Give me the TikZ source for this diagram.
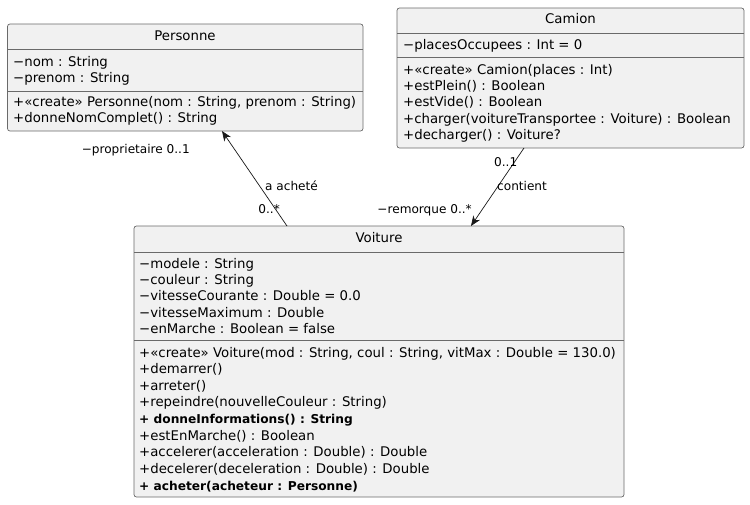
\documentclass[tikz,border=0pt]{standalone}
\usepackage{fontspec}
\setmainfont{DejaVu Sans}
\usetikzlibrary{arrows.meta,calc}
\definecolor{boxfill}{HTML}{F1F1F1}
\definecolor{boxline}{HTML}{6A6A6A}
\definecolor{linkline}{HTML}{181818}
\begin{document}
\begin{tikzpicture}[x=1pt,y=-1pt,
  classbox/.style={draw=boxline, line width=0.7pt, fill=boxfill, rounded corners=2.5pt,
    inner sep=0pt, outer sep=0pt, anchor=north west},
  sepline/.style={draw=boxline, line width=0.7pt},
  member/.style={inner sep=0pt, anchor=west, text height=9pt, text depth=3pt,
    font=\fontsize{13.3}{15}\selectfont},
  boldmember/.style={member, font=\fontsize{12.2}{15}\selectfont\bfseries},
  title/.style={inner sep=0pt, anchor=center, text height=9pt, text depth=3pt,
    font=\fontsize{13.3}{15}\selectfont},
  lbl/.style={inner sep=0pt, text height=8.5pt, text depth=2.5pt,
    font=\fontsize{12.1}{13}\selectfont},
  link/.style={draw=linkline, line width=0.7pt, -{Stealth[length=10pt,width=8pt,inset=3pt]}}
]
\useasboundingbox (0,0) rectangle (750,504);

% ---------- Personne ----------
\node[classbox, minimum width=355.5pt, minimum height=107pt] (personne) at (7.5,24) {};
\draw[sepline] ($(personne.north west)+(0,25)$) -- ($(personne.north east)+(0,25)$);
\draw[sepline] ($(personne.north west)+(0,67)$) -- ($(personne.north east)+(0,67)$);
\node[title] (pT) at (185,37) {Personne};
\node[member] (pa1) at (13,63) {−nom : String};
\node[member] (pa2) at (13,79) {−prenom : String};
\node[member] (pm1) at (13,103) {+«create» Personne(nom : String, prenom : String)};
\node[member] (pm2) at (13,119) {+donneNomComplet() : String};

% ---------- Camion ----------
\node[classbox, minimum width=347pt, minimum height=140pt] (camion) at (397,8) {};
\draw[sepline] ($(camion.north west)+(0,25.5)$) -- ($(camion.north east)+(0,25.5)$);
\draw[sepline] ($(camion.north west)+(0,49)$) -- ($(camion.north east)+(0,49)$);
\node[title] (cT) at (570.5,20.5) {Camion};
\node[member] (ca1) at (403,46) {−placesOccupees : Int = 0};
\node[member] (cm1) at (403,71) {+«create» Camion(places : Int)};
\node[member] (cm2) at (403,87) {+estPlein() : Boolean};
\node[member] (cm3) at (403,103.5) {+estVide() : Boolean};
\node[member] (cm4) at (403,120) {+charger(voitureTransportee : Voiture) : Boolean};
\node[member] (cm5) at (403,136) {+decharger() : Voiture?};

% ---------- Voiture ----------
\node[classbox, minimum width=490pt, minimum height=271pt] (voiture) at (134,226) {};
\draw[sepline] ($(voiture.north west)+(0,26)$) -- ($(voiture.north east)+(0,26)$);
\draw[sepline] ($(voiture.north west)+(0,114)$) -- ($(voiture.north east)+(0,114)$);
\node[title] (vT) at (379,239) {Voiture};
\node[member] (va1) at (139,265) {−modele : String};
\node[member] (va2) at (139,281) {−couleur : String};
\node[member] (va3) at (139,297.5) {−vitesseCourante : Double = 0.0};
\node[member] (va4) at (139,314) {−vitesseMaximum : Double};
\node[member] (va5) at (139,330) {−enMarche : Boolean = false};
\node[member] (vm1) at (139,354) {+«create» Voiture(mod : String, coul : String, vitMax : Double = 130.0)};
\node[member] (vm2) at (139,370.5) {+demarrer()};
\node[member] (vm3) at (139,387) {+arreter()};
\node[member] (vm4) at (139,403.5) {+repeindre(nouvelleCouleur : String)};
\node[boldmember] (vm5) at (139,420) {+ donneInformations() : String};
\node[member] (vm6) at (139,437) {+estEnMarche() : Boolean};
\node[member] (vm7) at (139,453.5) {+accelerer(acceleration : Double) : Double};
\node[member] (vm8) at (139,470) {+decelerer(deceleration : Double) : Double};
\node[boldmember] (vm9) at (139,487) {+ acheter(acheteur : Personne)};

% ---------- Associations ----------
\coordinate (a1s) at ($(voiture.north west)+(153,0)$);
\coordinate (a1e) at ($(personne.south west)+(214.5,0)$);
\coordinate (a2s) at ($(camion.south west)+(127,0)$);
\coordinate (a2e) at ($(voiture.north west)+(337,0)$);
\draw[link] (a1s) -- (a1e);
\draw[link] (a2s) -- (a2e);

\node[lbl, anchor=east] (l1) at (190,150) {−proprietaire 0..1};
\node[lbl, anchor=west] (l2) at (265,187) {a acheté};
\node[lbl, anchor=east] (l3) at (280,210) {0..*};
\node[lbl, anchor=west] (l4) at (494,163) {0..1};
\node[lbl, anchor=west] (l5) at (497,187) {contient};
\node[lbl, anchor=east] (l6) at (472,210) {−remorque 0..*};
\end{tikzpicture}
\end{document}
